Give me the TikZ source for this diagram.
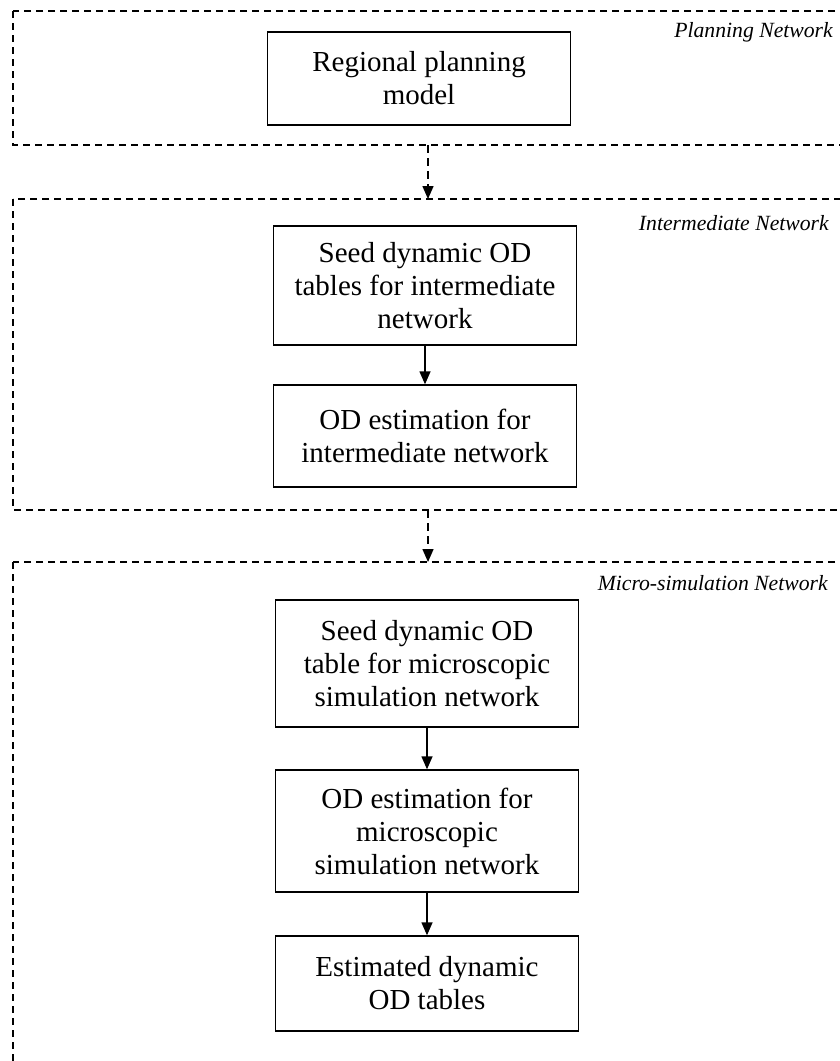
\documentclass[tikz,border=0pt]{standalone}
\usepackage{fontspec}
\setmainfont{Liberation Serif}
\usetikzlibrary{arrows.meta}
\begin{document}
\begin{tikzpicture}[x=1pt,y=-1pt,
  frame/.style={draw, line width=1.2pt, dash pattern=on 7pt off 5pt},
  stepbox/.style={draw, line width=1.4pt, align=center, inner sep=0pt,
    minimum width=303pt, font=\fontsize{29}{33}\selectfont},
  flow/.style={draw, line width=1.4pt, -{Triangle[length=13pt,width=11pt]}},
  dflow/.style={flow, dash pattern=on 8pt off 5pt},
  tag/.style={anchor=base east, inner sep=0pt,
    font=\fontsize{21.7}{24}\selectfont\itshape}]
\useasboundingbox (0,0) rectangle (840,1061);
\clip (0,0) rectangle (840,1061);

% dashed network frames (open to the right and, for the last one, downwards)
\draw[frame] (13,11) rectangle (860,145);
\draw[frame] (13,199) rectangle (860,510);
\draw[frame] (13,562) rectangle (860,1080);

% frame captions
\node[tag] (capP) at (833,37)  {Planning Network};
\node[tag] (capI) at (829,230) {Intermediate Network};
\node[tag] (capM) at (828,590) {Micro-simulation Network};

% process steps
\node[stepbox, minimum height=93pt]  (reg)  at (419,78.5) {Regional planning\\model};
\node[stepbox, minimum height=119pt] (seedI) at (425,285.5) {Seed dynamic OD\\tables for intermediate\\network};
\node[stepbox, minimum height=102pt] (estI)  at (425,436)   {OD estimation for\\intermediate network};
\node[stepbox, minimum height=127pt] (seedM) at (427,663.5) {Seed dynamic OD\\table for microscopic\\simulation network};
\node[stepbox, minimum height=122pt] (estM)  at (427,831)   {OD estimation for\\microscopic\\simulation network};
\node[stepbox, minimum height=95pt]  (outM)  at (427,983.5) {Estimated dynamic\\OD tables};

% hand-over points on the frame borders
\coordinate (p1out) at (428,145);
\coordinate (p2in)  at (428,199);
\coordinate (p2out) at (428,510);
\coordinate (p3in)  at (428,562);

% connectors
\draw[dflow] (p1out) -- (p2in);
\draw[dflow] (p2out) -- (p3in);
\draw[flow] (seedI) -- (estI);
\draw[flow] (seedM) -- (estM);
\draw[flow] (estM) -- (outM);
\end{tikzpicture}
\end{document}
